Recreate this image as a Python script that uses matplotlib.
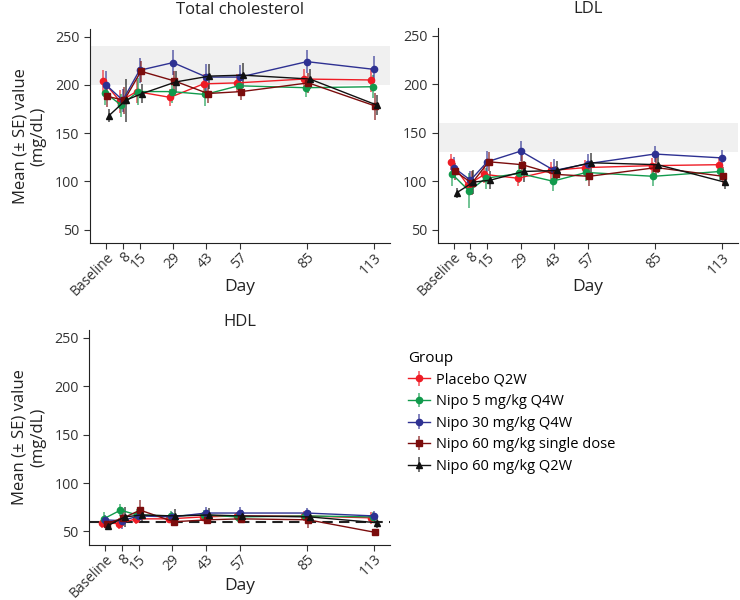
import numpy as np
import matplotlib
matplotlib.use('Agg')
import matplotlib.pyplot as plt

plt.rcParams['font.family'] = ['Open Sans', 'DejaVu Sans']

# days of the visits (baseline drawn at day 1)
days = [1, 8, 15, 29, 43, 57, 85, 113]
day_labels = ['Baseline', '8', '15', '29', '43', '57', '85', '113']

groups = ['Placebo Q2W', 'Nipo 5 mg/kg Q4W', 'Nipo 30 mg/kg Q4W',
          'Nipo 60 mg/kg single dose', 'Nipo 60 mg/kg Q2W']
colors = ['#ee1c25', '#119a4c', '#2e3192', '#7b0c0c', '#111111']
markers = ['o', 'o', 'o', 's', '^']
offsets = [-1.2, -0.6, 0.0, 0.6, 1.2]

# Total cholesterol, mean and SE per group
tc_mean = [
    [204, 183, 193, 187, 201, 202, 206, 205],
    [192, 179, 193, 193, 190, 199, 197, 198],
    [200, 184, 215, 223, 208, 208, 224, 216],
    [188, 184, 214, 204, 191, 193, 202, 178],
    [168, 184, 191, 203, 209, 210, 206, 179],
]
tc_se = [
    [11, 12, 12, 9, 10, 9, 10, 12],
    [13, 12, 14, 12, 12, 10, 10, 12],
    [14, 12, 13, 13, 14, 13, 12, 14],
    [11, 14, 11, 10, 10, 9, 10, 14],
    [7, 22, 10, 11, 13, 13, 10, 10],
]

# LDL
ldl_mean = [
    [120, 96, 107, 103, 111, 114, 116, 117],
    [107, 90, 103, 108, 100, 109, 105, 110],
    [114, 101, 120, 131, 111, 118, 128, 124],
    [110, 98, 120, 117, 107, 105, 114, 105],
    [88, 99, 101, 110, 111, 119, 117, 99],
]
ldl_se = [
    [8, 8, 9, 8, 9, 8, 8, 8],
    [12, 18, 11, 10, 10, 9, 10, 9],
    [11, 9, 11, 10, 12, 10, 8, 8],
    [9, 12, 10, 10, 9, 10, 10, 10],
    [5, 12, 9, 11, 10, 10, 9, 7],
]

# HDL
hdl_mean = [
    [59, 58, 63, 63, 65, 66, 66, 64],
    [63, 72, 67, 66, 67, 65, 66, 65],
    [62, 61, 66, 65, 69, 69, 69, 66],
    [58, 64, 72, 60, 62, 63, 62, 49],
    [56, 65, 67, 66, 67, 66, 65, 59],
]
hdl_se = [
    [5, 6, 5, 4, 4, 4, 5, 6],
    [7, 6, 6, 5, 5, 5, 4, 5],
    [5, 8, 5, 5, 6, 6, 5, 5],
    [4, 8, 10, 4, 4, 4, 8, 3],
    [4, 10, 7, 7, 7, 6, 6, 5],
]

fig = plt.figure(figsize=(7.4, 6.0), dpi=100)
ax_tc = fig.add_axes([0.1216, 0.595, 0.4054, 0.357])
ax_ldl = fig.add_axes([0.5915, 0.595, 0.4055, 0.3583])
ax_hdl = fig.add_axes([0.1203, 0.092, 0.4068, 0.358])

# axis, title, means, SEs, y label?, title pad, xlabel y position
panels = [(ax_tc, 'Total cholesterol', tc_mean, tc_se, True, 11, -0.206),
          (ax_ldl, 'LDL', ldl_mean, ldl_se, False, 11, -0.206),
          (ax_hdl, 'HDL', hdl_mean, hdl_se, True, 2.5, -0.194)]

handles = []
for ax, title, means, ses, ylab, tpad, xly in panels:
    for g in range(len(groups)):
        x = np.array(days) + offsets[g]
        ms = 4.5 if markers[g] != '^' else 4
        h = ax.errorbar(x, means[g], yerr=ses[g], color=colors[g], marker=markers[g],
                        markersize=ms, linewidth=1.0, elinewidth=1.4, capsize=0,
                        label=groups[g], zorder=3)
        for bar in h[2]:
            bar.set_alpha(0.6)
        if ax is ax_hdl:
            handles.append(h)
    ax.set_xlim(-5.7, 119.7)
    ax.set_ylim(36.2, 258)
    ax.set_yticks([50, 100, 150, 200, 250])
    ax.set_xticks(days)
    ax.set_xticklabels(day_labels, rotation=45, ha='right', rotation_mode='anchor')
    ax.spines['top'].set_visible(False)
    ax.spines['right'].set_visible(False)
    ax.spines['left'].set_color('#222222')
    ax.spines['bottom'].set_color('#222222')
    ax.tick_params(labelsize=10.3, colors='#333333', length=4, width=0.8)
    ax.tick_params(axis='x', pad=1, labelsize=10)
    ax.set_xlabel('Day', fontsize=12.5, color='#222222')
    ax.xaxis.set_label_coords(0.5, xly)
    ax.xaxis.label.set_va('center')
    ax.set_title(title, fontsize=12, color='#222222', pad=tpad)
    if ylab:
        ax.set_ylabel('Mean (± SE) value\n(mg/dL)', fontsize=12, color='#222222', labelpad=6)

# reference ranges
ax_tc.axhspan(200, 240, color='#f0f0f0', zorder=0, lw=0)
ax_ldl.axhspan(130, 160, color='#f0f0f0', zorder=0, lw=0)
ax_hdl.axhline(60, color='#222222', linestyle='--', dashes=(5, 3), linewidth=1.5, zorder=2)

leg = fig.legend(handles=handles, labels=groups, title='Group', loc='upper left',
                 bbox_to_anchor=(0.534, 0.437), frameon=False, fontsize=10.5,
                 title_fontsize=11, handlelength=1.5, handletextpad=0.4,
                 labelspacing=0.45)
leg._legend_box.align = 'left'

fig.savefig('out.png', dpi=100)
